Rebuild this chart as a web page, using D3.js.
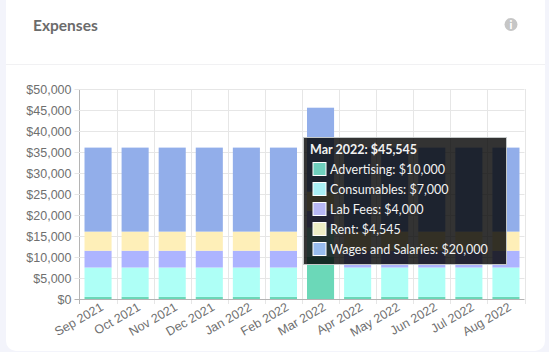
<!DOCTYPE html>
<html>
<head>
<meta charset="utf-8">
<script src="https://cdn.jsdelivr.net/npm/d3@7"></script>
<style>
  html, body { margin: 0; padding: 0; background: #f3f4fb; }
  svg { display: block; font-family: "Lato", sans-serif; }
  .y-axis text, .x-axis text { fill: #6f6f6f; font-size: 12.5px; }
  .y-axis path, .x-axis path { display: none; }
  .tip-text { fill: #f2f2f2; font-size: 12.5px; }
</style>
</head>
<body>
<svg id="chart" width="549" height="352"></svg>
<script>
const WIDTH = 549;
const HEIGHT = 352;

const months = ["Sep 2021", "Oct 2021", "Nov 2021", "Dec 2021", "Jan 2022", "Feb 2022",
  "Mar 2022", "Apr 2022", "May 2022", "Jun 2022", "Jul 2022", "Aug 2022"];
const seriesNames = ["Advertising", "Consumables", "Lab Fees", "Rent", "Wages and Salaries"];
const advertising = [500, 500, 500, 500, 500, 500, 10000, 500, 500, 500, 500, 500];
const consumables = [7000, 7000, 7000, 7000, 7000, 7000, 7000, 7000, 7000, 7000, 7000, 7000];
const labFees = [4000, 4000, 4000, 4000, 4000, 4000, 4000, 4000, 4000, 4000, 4000, 4000];
const rent = [4545, 4545, 4545, 4545, 4545, 4545, 4545, 4545, 4545, 4545, 4545, 4545];
const wages = [20000, 20000, 20000, 20000, 20000, 20000, 20000, 20000, 20000, 20000, 20000, 20000];
const yTicks = [0, 5000, 10000, 15000, 20000, 25000, 30000, 35000, 40000, 45000, 50000];
const colors = ["#6bd8b8", "#aefff6", "#adb4ff", "#feefb8", "#92aeea"];
const swatchColors = ["#6fcfbd", "#aaeff5", "#b8b8f4", "#eeeec6", "#98bcee"];

const tooltipIndex = months.indexOf("Mar 2022");

const rows = months.map((m, i) => ({
  month: m,
  "Advertising": advertising[i],
  "Consumables": consumables[i],
  "Lab Fees": labFees[i],
  "Rent": rent[i],
  "Wages and Salaries": wages[i],
}));

const svg = d3.select("#chart");
const money = (v) => "$" + d3.format(",")(v);

// card
svg.append("rect")
  .attr("x", 6).attr("y", -20)
  .attr("width", 539).attr("height", 371)
  .attr("rx", 10)
  .attr("fill", "#ffffff");
svg.append("line")
  .attr("x1", 6).attr("x2", 545)
  .attr("y1", 64.5).attr("y2", 64.5)
  .attr("stroke", "#f1f1f3");
svg.append("text")
  .attr("x", 33).attr("y", 31)
  .attr("font-size", 15.5).attr("font-weight", 700)
  .attr("fill", "#6b6b6b")
  .text("Expenses");

// info icon
const info = svg.append("g").attr("transform", "translate(511, 24.5)");
info.append("circle").attr("r", 6.5).attr("fill", "#c6c6c6");
info.append("text")
  .attr("text-anchor", "middle").attr("y", 4)
  .attr("font-size", 11).attr("font-weight", 900)
  .attr("fill", "#ffffff")
  .text("i");

// scales
const xScale = d3.scaleBand()
  .domain(months)
  .range([79.5, 524.5])
  .paddingInner(0.27)
  .paddingOuter(0.135);
const yScale = d3.scaleLinear()
  .domain([0, 50000])
  .range([299, 89]);

// gridlines
const gridX = xScale.step();
const boundaries = months.map((m) => xScale(m) - (gridX - xScale.bandwidth()) / 2);
boundaries.push(524.5);
svg.append("g").selectAll("line")
  .data(boundaries)
  .join("line")
  .attr("x1", (d) => Math.round(d) + 0.5).attr("x2", (d) => Math.round(d) + 0.5)
  .attr("y1", yScale(50000)).attr("y2", 304)
  .attr("stroke", (d, i) => (i === 0 ? "#b4b4b4" : "#e6e6e6"));

// Add Y axis
const yAxis = svg.append("g")
  .attr("class", "y-axis")
  .attr("transform", "translate(79.5, 0)")
  .call(d3.axisLeft(yScale).tickValues(yTicks).tickFormat(money).tickSize(0).tickPadding(8));
yAxis.selectAll(".tick line")
  .attr("x1", -5).attr("x2", 445)
  .attr("stroke", (d) => (d === 0 ? "#b4b4b4" : "#e6e6e6"));

// Add X axis
const xAxis = svg.append("g")
  .attr("class", "x-axis")
  .attr("transform", "translate(0, 299)")
  .call(d3.axisBottom(xScale).tickSize(0).tickPadding(6));
xAxis.selectAll(".tick line").remove();
xAxis.selectAll(".tick text")
  .attr("text-anchor", "end")
  .attr("dy", "0.5em")
  .attr("transform", "rotate(-30)");

// stacked bars
const stacked = d3.stack().keys(seriesNames)(rows);
const barG = svg.append("g");
stacked.forEach((layer, s) => {
  barG.append("g").selectAll("rect")
    .data(layer)
    .join("rect")
    .attr("x", (d) => xScale(d.data.month))
    .attr("y", (d) => yScale(d[1]))
    .attr("width", xScale.bandwidth())
    .attr("height", (d) => yScale(d[0]) - yScale(d[1]))
    .attr("fill", colors[s]);
});

// tooltip for the hovered month
const tip = svg.append("g").attr("transform", "translate(303, 137)");
tip.append("rect")
  .attr("x", 0.5).attr("y", 0.5)
  .attr("width", 203).attr("height", 127)
  .attr("fill", "rgba(0,0,0,0.8)")
  .attr("stroke", "#c4c8c8");
tip.append("text")
  .attr("class", "tip-text")
  .attr("x", 7).attr("y", 17)
  .attr("font-weight", 700)
  .text(`${months[tooltipIndex]}: ${money(d3.sum(seriesNames, (k) => rows[tooltipIndex][k]))}`);
const tipRows = tip.selectAll(".tip-row")
  .data(seriesNames)
  .join("g")
  .attr("class", "tip-row")
  .attr("transform", (d, i) => `translate(10, ${25.5 + i * 20})`);
tipRows.append("rect")
  .attr("width", 13).attr("height", 13)
  .attr("fill", (d, i) => swatchColors[i])
  .attr("stroke", "#ffffff");
tipRows.append("text")
  .attr("class", "tip-text")
  .attr("x", 17).attr("y", 11)
  .text((d) => `${d}: ${money(rows[tooltipIndex][d])}`);
</script>
</body>
</html>
